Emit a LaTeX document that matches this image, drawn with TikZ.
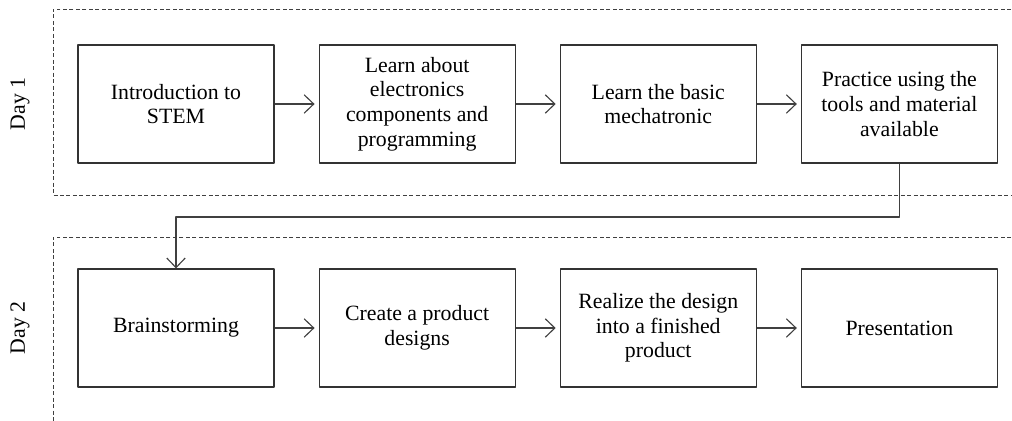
\documentclass[tikz,border=0pt]{standalone}
\usepackage{fontspec}
\setmainfont{Liberation Serif}
\usetikzlibrary{positioning,arrows.meta}

\tikzset{
  stage/.style={draw=black!80, line width=0.8pt, minimum width=4.9cm, minimum height=2.95cm,
    align=center, inner sep=2pt},
  flow/.style={draw=black!75, line width=0.8pt, -{Straight Barb[length=2.4mm,width=4.6mm]}, shorten >=1mm},
  dayframe/.style={draw=black!75, line width=0.7pt, dash pattern=on 2.8pt off 1.8pt},
}

\begin{document}
\begin{tikzpicture}[font=\fontsize{15.5}{17.6}\selectfont, node distance=1.1cm, line join=round]
  \def\xl{1.325} \def\xr{25.6} % left and right edge of the day frames
  \useasboundingbox (0,0) rectangle (25.3,-10.5);
  \clip (0,0) rectangle (25.3,-10.5);

  % day frames and their labels
  \draw[dayframe] (\xr,-0.225) -- (\xl,-0.225) -- (\xl,-4.875) -- (\xr,-4.875);
  \draw[dayframe] (\xr,-5.925) -- (\xl,-5.925) -- (\xl,-10.8);
  \node[rotate=90] (day1) at (0.5,-2.6) {Day 1};
  \node[rotate=90] (day2) at (0.5,-8.2) {Day 2};

  % day 1
  \node[stage] (intro) at (4.4,-2.6) {Introduction to\\STEM};
  \node[stage, right=of intro] (elec) {Learn about\\electronics\\components and\\programming};
  \node[stage, right=of elec] (mecha) {Learn the basic\\mechatronic};
  \node[stage, right=of mecha] (tools) {Practice using the\\tools and material\\available};

  % day 2
  \node[stage] (brain) at (4.4,-8.2) {Brainstorming};
  \node[stage, right=of brain] (design) {Create a product\\designs};
  \node[stage, right=of design] (build) {Realize the design\\into a finished\\product};
  \node[stage, right=of build] (present) {Presentation};

  \draw[flow] (intro) -- (elec);
  \draw[flow] (elec) -- (mecha);
  \draw[flow] (mecha) -- (tools);
  \draw[flow] (brain) -- (design);
  \draw[flow] (design) -- (build);
  \draw[flow] (build) -- (present);
  \coordinate (turn) at (0,-5.425);
  \draw[flow, shorten >=0pt] (tools.south) |- (turn -| brain) -- (brain.north);
\end{tikzpicture}
\end{document}
